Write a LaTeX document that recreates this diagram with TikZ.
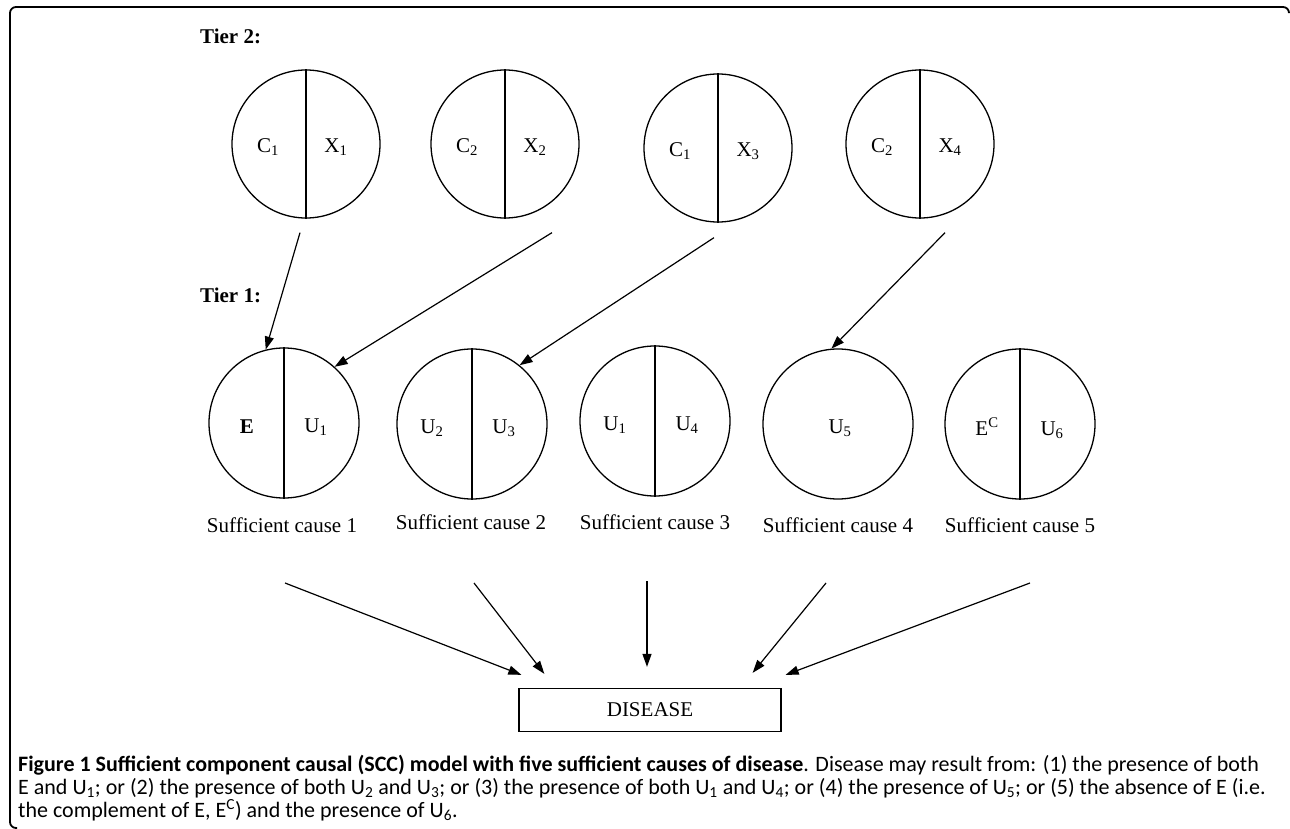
\documentclass[tikz,border=0pt]{standalone}
\usepackage{fontspec}
\setmainfont{Liberation Serif}
\newfontfamily\capfont{Carlito}
\usetikzlibrary{arrows.meta}
\begin{document}
\begin{tikzpicture}[x=1pt,y=-1pt,
  every node/.style={inner sep=0pt},
  bigc/.style={draw, circle, line width=1.3pt, minimum size=150pt},
  smallc/.style={draw, circle, line width=1.3pt, minimum size=148pt},
  tier/.style={anchor=west, font=\fontsize{21}{24}\selectfont\bfseries},
  lbl/.style={font=\fontsize{21}{24}\selectfont},
  arr/.style={line width=1.2pt, -{Triangle[length=13pt,width=9pt]}},
  div/.style={line width=1.3pt},
  captxt/.style={anchor=base west, font=\capfont\fontsize{22}{23}\selectfont}
]
\useasboundingbox (0,0) rectangle (1290,829);
% frame
\draw[line width=1.8pt, rounded corners=6pt] (1289,12) -- (1289,7) -- (10,7) -- (10,828) -- (17,828);

% tier labels
\node[tier] (tier2) at (200,36) {Tier 2:};
\node[tier] (tier1) at (200,295) {Tier 1:};

% tier 2 circles
\node[smallc] (t21) at (306,144) {};
\node[smallc] (t22) at (505,144) {};
\node[smallc] (t23) at (718,148) {};
\node[smallc] (t24) at (920,144) {};
\foreach \n in {t21,t22,t23,t24}{\draw[div] (\n.north) -- (\n.south);}
\node[lbl] (t21l) at ([shift={(-38,3)}]t21.center) {C\textsubscript{1}};
\node[lbl] (t21r) at ([shift={(30,3)}]t21.center) {X\textsubscript{1}};
\node[lbl] (t22l) at ([shift={(-38,3)}]t22.center) {C\textsubscript{2}};
\node[lbl] (t22r) at ([shift={(30,3)}]t22.center) {X\textsubscript{2}};
\node[lbl] (t23l) at ([shift={(-38,3)}]t23.center) {C\textsubscript{1}};
\node[lbl] (t23r) at ([shift={(30,3)}]t23.center) {X\textsubscript{3}};
\node[lbl] (t24l) at ([shift={(-38,3)}]t24.center) {C\textsubscript{2}};
\node[lbl] (t24r) at ([shift={(30,3)}]t24.center) {X\textsubscript{4}};

% tier 1 circles
\node[bigc] (s1) at (284,423) {};
\node[bigc] (s2) at (472,424) {};
\node[bigc] (s3) at (655,421) {};
\node[bigc] (s4) at (838,424) {};
\node[bigc] (s5) at (1020,424) {};
\foreach \n in {s1,s2,s3,s5}{\draw[div] (\n.north) -- (\n.south);}
\node[lbl] (s1l) at ([shift={(-37,4)}]s1.center) {\textbf{E}};
\node[lbl] (s1r) at ([shift={(32,4)}]s1.center) {U\textsubscript{1}};
\node[lbl] (s2l) at ([shift={(-40,4)}]s2.center) {U\textsubscript{2}};
\node[lbl] (s2r) at ([shift={(32,4)}]s2.center) {U\textsubscript{3}};
\node[lbl] (s3l) at ([shift={(-40,4)}]s3.center) {U\textsubscript{1}};
\node[lbl] (s3r) at ([shift={(32,4)}]s3.center) {U\textsubscript{4}};
\node[lbl] (s4c) at ([shift={(2,4)}]s4.center) {U\textsubscript{5}};
\node[lbl, anchor=base] (s5l) at ([shift={(-33,11)}]s5.center) {E\textsuperscript{C}};
\node[lbl, anchor=base] (s5r) at ([shift={(32,11)}]s5.center) {U\textsubscript{6}};

% sufficient cause labels
\node[lbl] (c1) at (282,525) {Sufficient cause 1};
\node[lbl] (c2) at (471,522) {Sufficient cause 2};
\node[lbl] (c3) at (655,522) {Sufficient cause 3};
\node[lbl] (c4) at (838,525) {Sufficient cause 4};
\node[lbl] (c5) at (1020,525) {Sufficient cause 5};

% disease box
\node[draw, line width=1.3pt, minimum width=262pt, minimum height=43pt, lbl] (dis) at (650,710) {DISEASE};

% tier 2 -> tier 1 arrows
\coordinate (a1) at ([shift={(-6,14)}]t21.south);
\coordinate (a2) at ([shift={(47,14)}]t22.south);
\coordinate (a3) at ([shift={(-4,15)}]t23.south);
\coordinate (a4) at ([shift={(25,14)}]t24.south);
\draw[arr] (a1) -- (s1.104);
\draw[arr] (a2) -- (s1.48);
\draw[arr] (a3) -- (s2.51);
\draw[arr] (a4) -- (s4.95);

% tier 1 -> disease arrows
\coordinate (b1) at (285,583);
\coordinate (b2) at (474,583);
\coordinate (b3) at (647,581);
\coordinate (b4) at (826,583);
\coordinate (b5) at (1030,583);
\coordinate (e1) at ([shift={(3,-13)}]dis.north west);
\coordinate (e2) at ([shift={(26,-14)}]dis.north west);
\coordinate (e3) at ([shift={(-3,-21)}]dis.north);
\coordinate (e4) at ([shift={(-29,-15)}]dis.north east);
\coordinate (e5) at ([shift={(4,-13)}]dis.north east);
\draw[arr] (b1) -- (e1);
\draw[arr] (b2) -- (e2);
\draw[arr] (b3) -- (e3);
\draw[arr] (b4) -- (e4);
\draw[arr] (b5) -- (e5);

% caption
\node[captxt] (cap1) at (18,771) {\textbf{Figure 1 Sufficient component causal (SCC) model with five sufficient causes of disease}. Disease may result from: (1) the presence of both};
\node[captxt] (cap2) at (18,794) {E and U\textsubscript{1}; or (2) the presence of both U\textsubscript{2} and U\textsubscript{3}; or (3) the presence of both U\textsubscript{1} and U\textsubscript{4}; or (4) the presence of U\textsubscript{5}; or (5) the absence of E (i.e.};
\node[captxt] (cap3) at (18,817) {the complement of E, E\textsuperscript{C}) and the presence of U\textsubscript{6}.};
\end{tikzpicture}
\end{document}
